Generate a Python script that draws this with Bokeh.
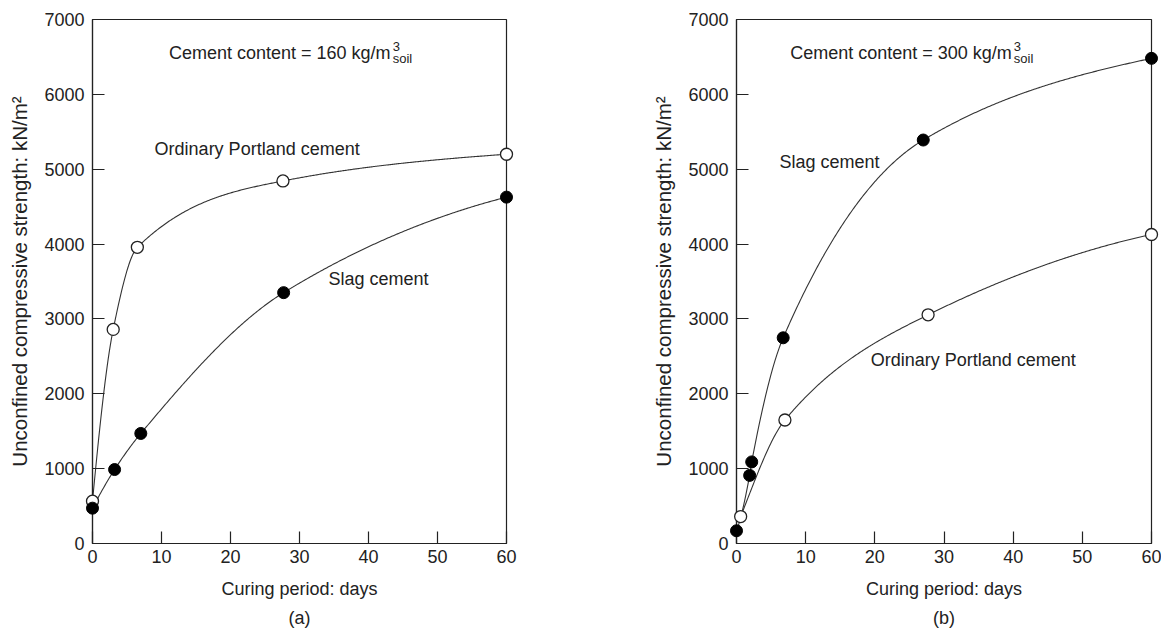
import numpy as np
from bokeh.plotting import figure
from bokeh.layouts import row
from bokeh.models import Range1d, FixedTicker, Label, Title
from bokeh.embed import file_html
from bokeh.resources import INLINE

# ---------------- data ----------------
# Panel (a): cement content = 160 kg/m3
days_a_opc = [0.0, 3.0, 6.5, 27.6, 60.0]
opc_a = [565, 2860, 3957, 4843, 5200]
days_a_slag = [0.0, 3.2, 7.0, 27.7, 60.0]
slag_a = [472, 988, 1470, 3351, 4627]

# Panel (b): cement content = 300 kg/m3
days_b_slag = [0.0, 1.9, 2.2, 6.75, 27.0, 60.0]
slag_b = [170, 910, 1090, 2748, 5390, 6481]
days_b_opc = [0.6, 7.0, 27.7, 60.0]
opc_b = [360, 1650, 3055, 4128]

x_ticks = [0, 10, 20, 30, 40, 50, 60]
y_ticks = [0, 1000, 2000, 3000, 4000, 5000, 6000, 7000]

FONT = "Liberation Sans"
TXT = "#222222"
LINE = "#333333"


def pchip_curve(x, y, n=400):
    """Monotone cubic curve through the given points, used only to draw the line."""
    x = np.asarray(x, float)
    y = np.asarray(y, float)
    h = np.diff(x)
    delta = np.diff(y) / h
    m = len(x)
    d = np.zeros(m)
    for k in range(1, m - 1):
        if delta[k - 1] * delta[k] <= 0:
            d[k] = 0.0
        else:
            w1 = 2 * h[k] + h[k - 1]
            w2 = h[k] + 2 * h[k - 1]
            d[k] = (w1 + w2) / (w1 / delta[k - 1] + w2 / delta[k])

    def end_slope(h0, h1, d0, d1):
        s = ((2 * h0 + h1) * d0 - h0 * d1) / (h0 + h1)
        if np.sign(s) != np.sign(d0) or abs(s) < 0.6 * abs(d0):
            s = 0.6 * d0
        elif np.sign(d0) != np.sign(d1) and abs(s) > abs(3 * d0):
            s = 3 * d0
        return s

    d[0] = end_slope(h[0], h[1], delta[0], delta[1])
    d[-1] = end_slope(h[-1], h[-2], delta[-1], delta[-2])
    xs = np.linspace(x[0], x[-1], n)
    idx = np.clip(np.searchsorted(x, xs) - 1, 0, m - 2)
    t = (xs - x[idx]) / h[idx]
    h00 = 2 * t**3 - 3 * t**2 + 1
    h10 = t**3 - 2 * t**2 + t
    h01 = -2 * t**3 + 3 * t**2
    h11 = t**3 - t**2
    ys = h00 * y[idx] + h10 * h[idx] * d[idx] + h01 * y[idx + 1] + h11 * h[idx] * d[idx + 1]
    return xs, ys


def make_panel(tag, width, border_right):
    p = figure(
        width=width, height=634,
        min_border_left=92, min_border_right=border_right,
        min_border_top=19, min_border_bottom=91,
        x_range=Range1d(0, 60), y_range=Range1d(0, 7000),
        output_backend="svg", toolbar_location=None,
        background_fill_color="white", border_fill_color="white",
    )
    p.xgrid.visible = False
    p.ygrid.visible = False
    p.outline_line_color = "#222222"
    p.outline_line_width = 1.2

    p.xaxis.ticker = FixedTicker(ticks=x_ticks)
    p.yaxis.ticker = FixedTicker(ticks=y_ticks)
    for ax in (p.xaxis[0], p.yaxis[0]):
        ax.major_tick_in = 12
        ax.major_tick_out = 0
        ax.minor_tick_in = 0
        ax.minor_tick_out = 0
        ax.axis_line_color = "#222222"
        ax.axis_line_width = 1.2
        ax.major_tick_line_color = "#222222"
        ax.major_tick_line_width = 1.2
        ax.major_label_text_font = FONT
        ax.major_label_text_font_size = "18px"
        ax.major_label_text_color = TXT
        ax.axis_label_text_font = FONT
        ax.axis_label_text_font_style = "normal"
        ax.axis_label_text_color = TXT

    p.yaxis.major_label_standoff = 8
    p.xaxis.major_label_standoff = 6
    p.xaxis.axis_label = "Curing period: days"
    p.xaxis.axis_label_text_font_size = "18px"
    p.xaxis.axis_label_standoff = 13
    p.yaxis.axis_label = "Unconfined compressive strength: kN/m²"
    p.yaxis.axis_label_text_font_size = "20.5px"
    p.yaxis.axis_label_standoff = 10

    t = Title(text=tag, align="center", text_font=FONT, text_font_size="18px",
              text_font_style="normal", text_color=TXT, standoff=8)
    p.add_layout(t, "below")
    return p


def add_series(p, xs, ys, filled):
    cx, cy = pchip_curve(xs, ys)
    p.line(cx, cy, line_color=LINE, line_width=1.1)
    if filled:
        r = p.scatter(xs, ys, size=12, marker="circle", fill_color="black",
                      line_color="black", line_width=1)
    else:
        r = p.scatter(xs, ys, size=12, marker="circle", fill_color="white",
                      line_color="#222222", line_width=1.3)
    r.level = "overlay"


def add_text(p, x, y, text, size="18px", align="left"):
    p.add_layout(Label(x=x, y=y, text=text, text_font=FONT, text_font_size=size,
                       text_color=TXT, text_align=align, text_baseline="alphabetic"))


# ---------------- panel (a) ----------------
pa = make_panel("(a)", 644, 138)
add_series(pa, days_a_opc, opc_a, filled=False)
add_series(pa, days_a_slag, slag_a, filled=True)
add_text(pa, 43.2, 6546, "Cement content = 160 kg/m", align="right")
add_text(pa, 43.5, 6640, "3", size="13px")
add_text(pa, 43.5, 6479, "soil", size="13px")
add_text(pa, 9.0, 5264, "Ordinary Portland cement")
add_text(pa, 34.2, 3527, "Slag cement")

# ---------------- panel (b) ----------------
pb = make_panel("(b)", 517, 10)
add_series(pb, days_b_slag, slag_b, filled=True)
add_series(pb, days_b_opc, opc_b, filled=False)
add_text(pb, 39.8, 6546, "Cement content = 300 kg/m", align="right")
add_text(pb, 40.1, 6640, "3", size="13px")
add_text(pb, 40.1, 6479, "soil", size="13px")
add_text(pb, 6.2, 5103, "Slag cement")
add_text(pb, 19.4, 2458, "Ordinary Portland cement")

layout = row(pa, pb)
open("out.html", "w").write(file_html(layout, INLINE))
